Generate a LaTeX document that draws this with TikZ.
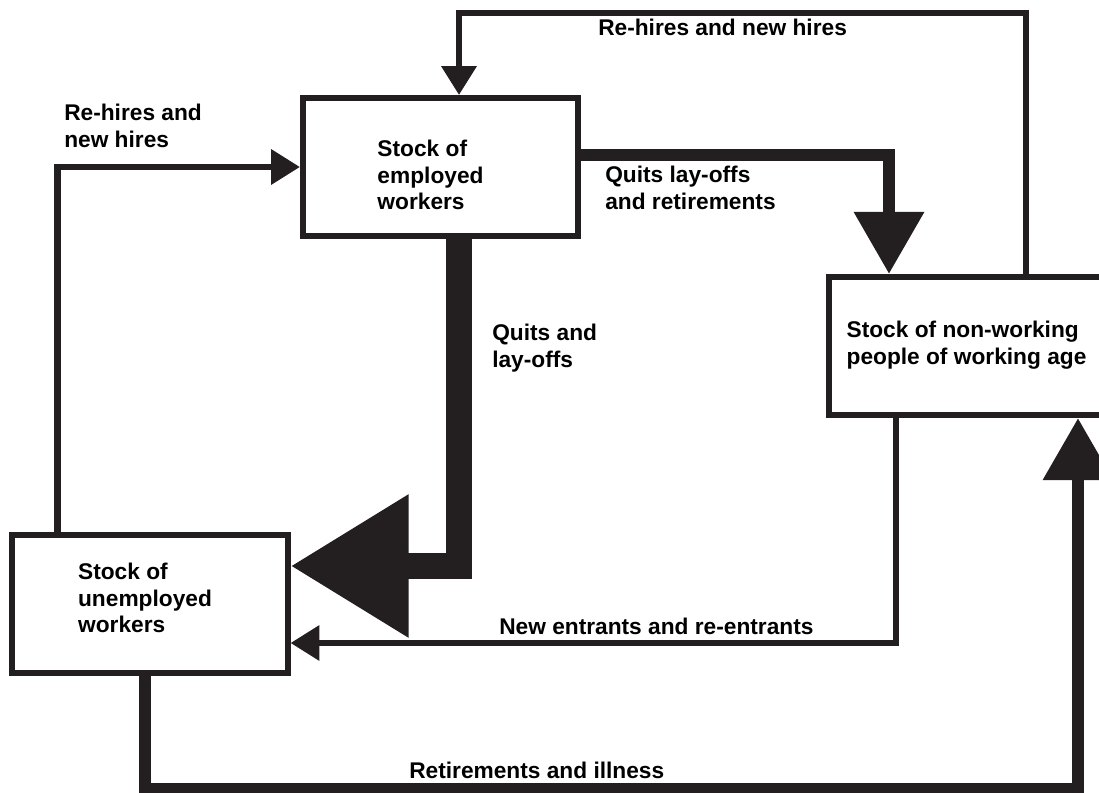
\documentclass[tikz,border=0pt]{standalone}
\usepackage{fontspec}
\setmainfont{Liberation Sans}
\usetikzlibrary{positioning, calc, arrows.meta}
\definecolor{inkBlack}{RGB}{35, 31, 32}

\begin{document}
\begin{tikzpicture}[
    % one unit = one pixel of the 1099 x 793 page, y grows downwards
    x=0.025cm, y=-0.025cm,
    stock/.style={draw=inkBlack, line width=0.15cm, fill=white,
                  minimum width=6.875cm, minimum height=3.45cm},
    stocktext/.style={inner sep=0pt, align=left,
                      font=\bfseries\fontsize{16.15}{18.85}\selectfont},
    lbl/.style={inner sep=0pt, align=left, anchor=base west,
                font=\bfseries\fontsize{16.15}{18.85}\selectfont},
    thinflow/.style={draw=inkBlack, line width=0.16cm,
                     -{Triangle[length=0.72cm, width=0.85cm]}},
    wideflow/.style={draw=inkBlack, line width=0.31cm,
                     -{Triangle[length=1.55cm, width=1.68cm]}},
    heavyflow/.style={draw=inkBlack, line width=0.65cm,
                      -{Triangle[length=2.95cm, width=3.4cm]}}
  ]
  \useasboundingbox (0,0) rectangle (1099,793);

  % ── the three stocks ─────────────────────────────────────────────────────
  \node[stock] (emp)   at (440.5, 167) {};
  \node[stock] (unemp) at (150, 604)   {};
  \node[stock] (nonw)  at (966.5, 346) {};

  \node[stocktext] (empText)   at ($(emp)+(-10,8)$)   {Stock of\\employed\\workers};
  \node[stocktext] (unempText) at ($(unemp)+(-5,-6)$) {Stock of\\unemployed\\workers};
  \node[stocktext] (nonwText)  at ($(nonw)+(0,-1)$)   {Stock of non-working\\people of working age};

  % ── flows between them ───────────────────────────────────────────────────
  % non-working -> employed, over the top
  \draw[thinflow] ($(nonw.north)+(59.5,0)$) |- ($(emp.north)+(18.5,-82)$)
        -- ($(emp.north)+(18.5,0)$);
  % unemployed -> employed, round the left
  \draw[thinflow] ($(unemp.north)+(-92.5,0)$) |- (emp.west);
  % employed -> non-working
  \draw[wideflow] ($(emp.east)+(0,-12)$) -| ($(nonw.north)+(-77.5,0)$);
  % employed -> unemployed
  \draw[heavyflow] ($(emp.south)+(18.5,0)$) |- ($(unemp.east)+(0,-38)$);
  % non-working -> unemployed
  \draw[thinflow] ($(nonw.south)+(-70.5,0)$) |- ($(unemp.east)+(0,39)$);
  % unemployed -> non-working, along the bottom
  \draw[wideflow] ($(unemp.south)+(-5,0)$) -- ++(0,113)
        -| ($(nonw.south)+(111.5,0)$);

  % ── flow labels (base = last line) ───────────────────────────────────────
  \node[lbl] (hireTop)  at (598, 36)    {Re-hires and new hires};
  \node[lbl] (hireLeft) at (64, 147.5)  {Re-hires and\\new hires};
  \node[lbl] (quitsRet) at (605, 209.5) {Quits lay-offs\\and retirements};
  \node[lbl] (quitsLay) at (492, 367.5) {Quits and\\lay-offs};
  \node[lbl] (entrants) at (499, 634)   {New entrants and re-entrants};
  \node[lbl] (retIll)   at (409, 778)   {Retirements and illness};

\end{tikzpicture}
\end{document}
